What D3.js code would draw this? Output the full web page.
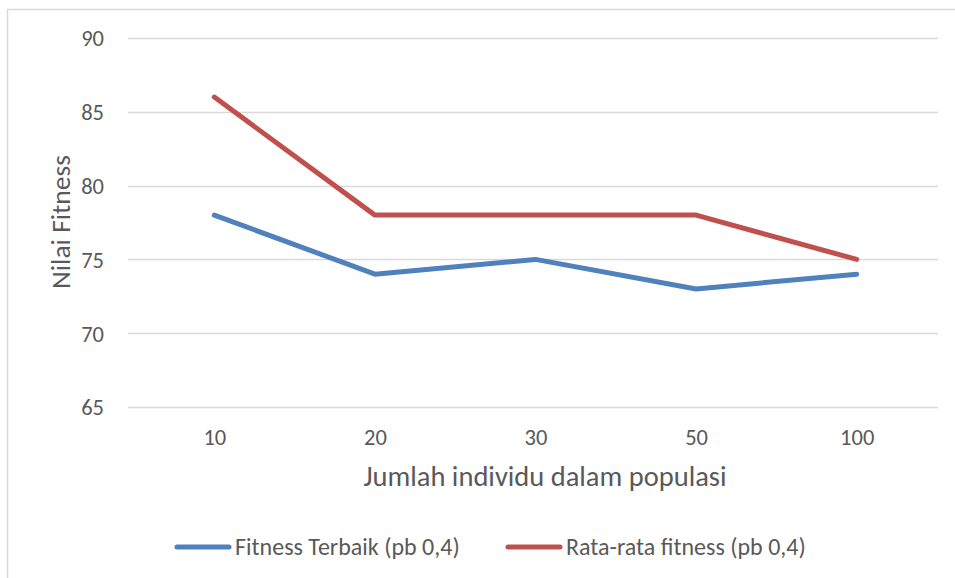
<!DOCTYPE html>
<html>
<head>
<meta charset="utf-8">
<script src="https://cdn.jsdelivr.net/npm/d3@7"></script>
<style>
  html, body { margin: 0; padding: 0; background: #fff; }
  svg { display: block; }
  text { font-family: Carlito, "Open Sans", "Noto Sans", sans-serif; fill: #595959; }
</style>
</head>
<body>
<svg id="chart" width="955" height="578"></svg>
<script>
// Population sizes on the x axis
const categories = ["10", "20", "30", "50", "100"];
// Best fitness per population size (pb 0,4)
const bestFitness = [78, 74, 75, 73, 74];
// Average fitness per population size (pb 0,4)
const avgFitness = [86, 78, 78, 78, 75];
const yTicks = [65, 70, 75, 80, 85, 90];
const seriesNames = ["Fitness Terbaik (pb 0,4)", "Rata-rata fitness (pb 0,4)"];
const seriesColors = ["#4F81BD", "#C0504D"];

const svg = d3.select("#chart");
const W = 955, H = 578;

// Chart frame
svg.append("rect")
  .attr("x", 7.5).attr("y", 9.5)
  .attr("width", W + 10).attr("height", H + 10)
  .attr("fill", "#fff").attr("stroke", "#d9d9d9").attr("stroke-width", 1.5);

const plot = { left: 134, right: 937, top: 38, bottom: 407 };

const x = d3.scalePoint()
  .domain(categories)
  .range([plot.left, plot.right])
  .padding(0.5);

const y = d3.scaleLinear()
  .domain([65, 90])
  .range([plot.bottom, plot.top]);

// Horizontal gridlines
svg.append("g")
  .selectAll("line")
  .data(yTicks)
  .join("line")
  .attr("x1", 128).attr("x2", 938)
  .attr("y1", d => Math.round(y(d)) + 0.5)
  .attr("y2", d => Math.round(y(d)) + 0.5)
  .attr("stroke", "#d9d9d9").attr("stroke-width", 1.3);

// Y tick labels
const yAxis = d3.axisLeft(y).tickValues(yTicks).tickSize(0).tickPadding(0);
const gy = svg.append("g").attr("transform", "translate(104,0)").call(yAxis);
gy.select(".domain").remove();
gy.selectAll("text")
  .style("font-size", "22.5px")
  .attr("fill", "#595959")
  .attr("dy", "0.35em");

// X tick labels
const xAxis = d3.axisBottom(x).tickSize(0).tickPadding(0);
const gx = svg.append("g").attr("transform", "translate(0,437)").call(xAxis);
gx.select(".domain").remove();
gx.selectAll("text")
  .style("font-size", "22.5px")
  .attr("fill", "#595959")
  .attr("dy", "0.35em");

// Series lines
const line = d3.line()
  .x((d, i) => x(categories[i]))
  .y(d => y(d));

[bestFitness, avgFitness].forEach((vals, k) => {
  svg.append("path")
    .datum(vals)
    .attr("d", line)
    .attr("fill", "none")
    .attr("stroke", seriesColors[k])
    .attr("stroke-width", 5)
    .attr("stroke-linejoin", "round")
    .attr("stroke-linecap", "round");
});

// Axis titles
svg.append("text")
  .attr("x", 545)
  .attr("y", 476)
  .attr("dy", "0.35em")
  .attr("text-anchor", "middle")
  .style("font-size", "28.5px")
  .text("Jumlah individu dalam populasi");

svg.append("text")
  .attr("transform", "translate(60,222) rotate(-90)")
  .attr("dy", "0.35em")
  .attr("text-anchor", "middle")
  .style("font-size", "27.5px")
  .text("Nilai Fitness");

// Legend
const legendItems = [
  { x: 177, name: seriesNames[0], color: seriesColors[0] },
  { x: 508, name: seriesNames[1], color: seriesColors[1] }
];
const lg = svg.append("g").selectAll("g").data(legendItems).join("g")
  .attr("transform", d => `translate(${d.x},547)`);
lg.append("line")
  .attr("x1", 0).attr("x2", 52).attr("y1", 0).attr("y2", 0)
  .attr("stroke", d => d.color).attr("stroke-width", 5)
  .attr("stroke-linecap", "round");
lg.append("text")
  .attr("x", 58).attr("dy", "0.35em")
  .style("font-size", "24px")
  .text(d => d.name);
</script>
</body>
</html>
